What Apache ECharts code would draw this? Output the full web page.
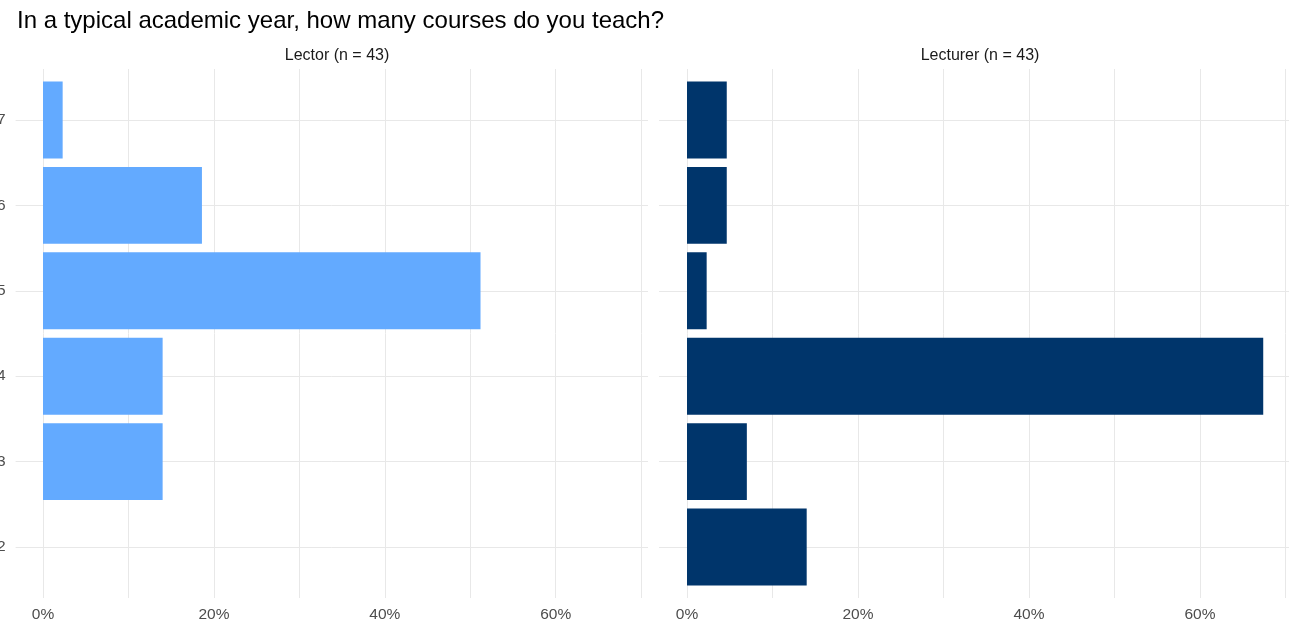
<!DOCTYPE html>
<html>
<head>
<meta charset="utf-8">
<script src="https://cdn.jsdelivr.net/npm/echarts@6/dist/echarts.min.js"></script>
<style>
  html, body { margin: 0; padding: 0; background: #fff; }
  #chart { width: 1289px; height: 625px; }
</style>
</head>
<body>
<div id="chart"></div>
<script>
// courses per year (y) and share of respondents in % (x)
var courses = ['2', '3', '4', '5', '6', '7'];
var lector = [0, 14.0, 14.0, 51.2, 18.6, 2.3];
var lecturer = [14.0, 7.0, 67.4, 2.3, 4.65, 4.65];
var panels = ['Lector (n = 43)', 'Lecturer (n = 43)'];
var xLabels = [0, 20, 40, 60];

var FONT = 'Liberation Sans';
var chart = echarts.init(document.getElementById('chart'));

// panel geometry: panel left, zero x, right insets
var geo = [
    { left: 15.6, zero: 43, right: 641, rightBars: 641 },
    { left: 659, zero: 687, right: 0, rightBars: -3.3 }
];
var XMAX = 70.8;
var grey = '#e8e8e8';

var grids = [], xAxes = [], yAxes = [], series = [];

geo.forEach(function (g, p) {
    var base = grids.length;
    // horizontal grid lines at the categories
    grids.push({ left: g.left, right: g.right, top: 120, bottom: 78, outerBoundsMode: 'none' });
    xAxes.push({ type: 'value', gridIndex: base, min: 0, max: 1, show: false });
    yAxes.push({
        type: 'value', gridIndex: base, min: 2, max: 7, interval: 1,
        axisLine: { show: false }, axisTick: { show: false },
        splitLine: { show: true, lineStyle: { color: grey, width: 1 } },
        axisLabel: {
            show: p === 0, color: '#4d4d4d', fontSize: 15.5, fontFamily: FONT, margin: 10
        }
    });
    // vertical grid lines and percent labels
    grids.push({ left: g.zero, right: g.rightBars, top: 69, bottom: 27, outerBoundsMode: 'none' });
    xAxes.push({
        type: 'value', gridIndex: base + 1, min: 0, max: XMAX, interval: 10,
        axisLine: { show: false }, axisTick: { show: false },
        splitLine: { show: true, showMaxLine: false, lineStyle: { color: grey, width: 1 } },
        axisLabel: {
            color: '#4d4d4d', fontSize: 15.5, fontFamily: FONT, margin: 9,
            showMaxLabel: false,
            formatter: function (v) { return xLabels.indexOf(v) >= 0 ? v + '%' : ''; }
        }
    });
    yAxes.push({ type: 'value', gridIndex: base + 1, min: 0, max: 1, show: false });
    // bars
    grids.push({ left: g.zero, right: g.rightBars, top: 77.3, bottom: 35.3, outerBoundsMode: 'none' });
    xAxes.push({ type: 'value', gridIndex: base + 2, min: 0, max: XMAX, show: false });
    yAxes.push({ type: 'category', gridIndex: base + 2, data: courses, show: false });
    series.push({
        name: panels[p], type: 'bar',
        xAxisIndex: base + 2, yAxisIndex: base + 2,
        data: p === 0 ? lector : lecturer,
        barCategoryGap: '10%',
        itemStyle: { color: p === 0 ? '#63aaff' : '#00356b' }
    });
});

var opt = {
    animation: false,
    title: [{
        text: 'In a typical academic year, how many courses do you teach?',
        left: 12, top: 4,
        textStyle: { fontFamily: FONT, fontSize: 24, fontWeight: 'normal', color: '#000' }
    }, {
        text: panels[0], left: 332, top: 43, textAlign: 'center',
        textStyle: { fontFamily: FONT, fontSize: 16, fontWeight: 'normal', color: '#1a1a1a' }
    }, {
        text: panels[1], left: 975, top: 43, textAlign: 'center',
        textStyle: { fontFamily: FONT, fontSize: 16, fontWeight: 'normal', color: '#1a1a1a' }
    }],
    grid: grids,
    xAxis: xAxes,
    yAxis: yAxes,
    series: series
};

chart.setOption(opt);
</script>
</body>
</html>
